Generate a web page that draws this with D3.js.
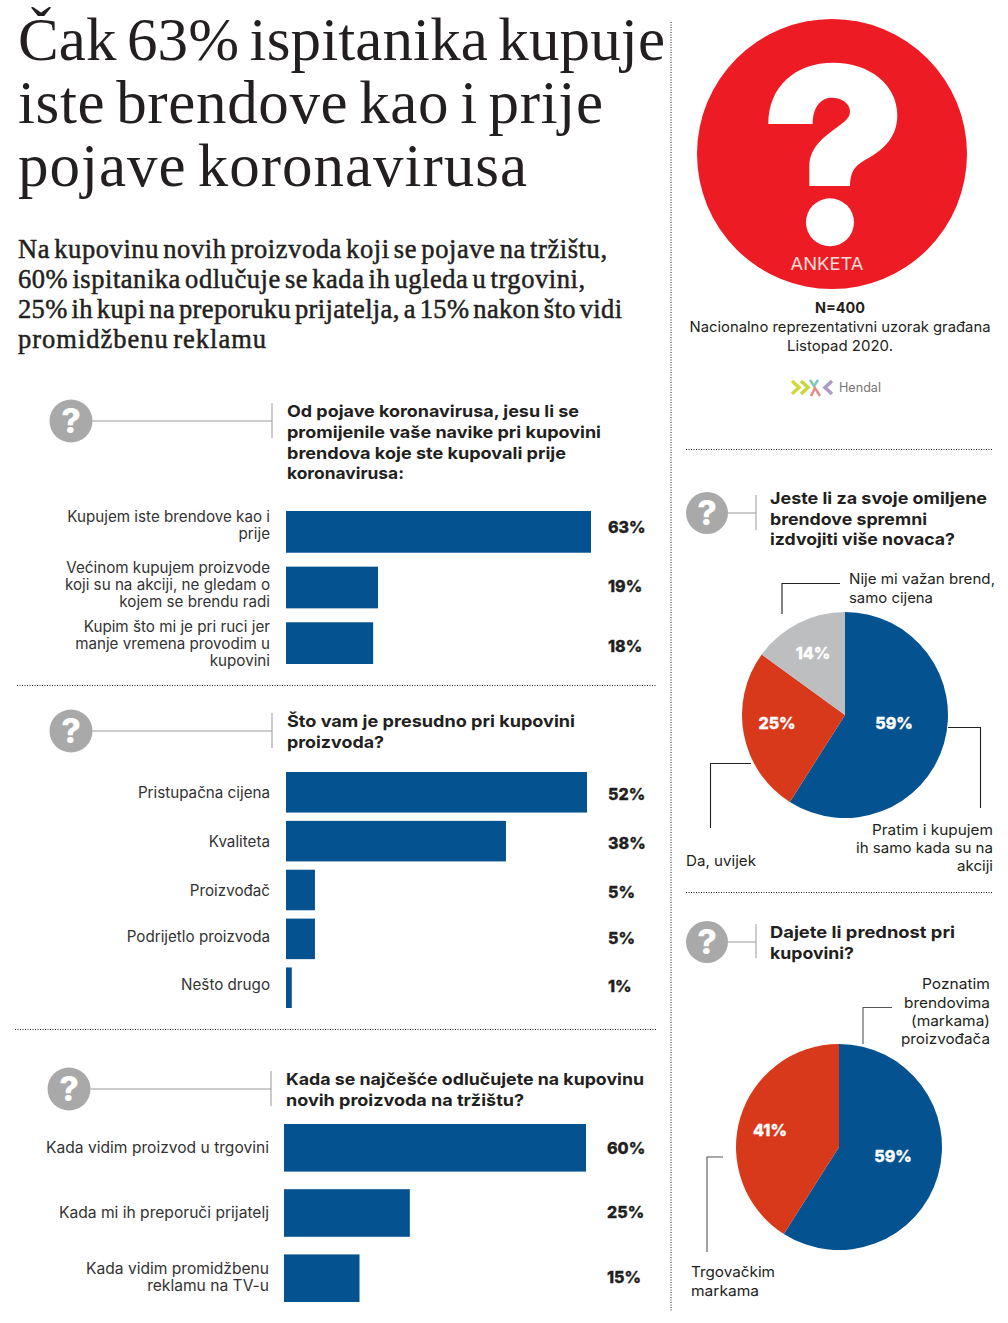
<!DOCTYPE html>
<html><head><meta charset="utf-8">
<script src="https://cdn.jsdelivr.net/npm/d3@7/dist/d3.min.js"></script>
<style>html,body{margin:0;padding:0;background:#fff}svg{display:block}</style>
</head><body><svg id="c" width="1008" height="1323"></svg>
<script>
// ---- data ----
const q1Categories = [["Kupujem iste brendove kao i","prije"],["Većinom kupujem proizvode","koji su na akciji, ne gledam o","kojem se brendu radi"],["Kupim što mi je pri ruci jer","manje vremena provodim u","kupovini"]];
const q1Values = [63,19,18];
const q2Categories = [["Pristupačna cijena"],["Kvaliteta"],["Proizvođač"],["Podrijetlo proizvoda"],["Nešto drugo"]];
const q2Values = [52,38,5,5,1];
const q3Categories = [["Kada vidim proizvod u trgovini"],["Kada mi ih preporuči prijatelj"],["Kada vidim promidžbenu","reklamu na TV-u"]];
const q3Values = [60,25,15];
const pie1Shares = [59,26,15];
const pie1Labels = ["59%","25%","14%"];
const pie2Shares = [59,41];
const pie2Labels = ["59%","41%"];

const BLUE="#04528f", RED="#d9391b", GREY="#bcbec0", INK="#231f20", ICON="#a9a9a9";
const SANS="Inter, 'Noto Sans', sans-serif", SERIF="'Liberation Serif', serif";
const svg=d3.select("#c");

function txt(x,y,s,o={}){
  const t=svg.append("text").attr("x",x).attr("y",y).text(s)
    .attr("font-family",o.font||SANS).attr("font-size",o.size||14.5)
    .attr("font-weight",o.weight||400).attr("fill",o.fill||INK)
    .attr("text-anchor",o.anchor||"start");
  if(o.w) t.attr("textLength",o.w).attr("lengthAdjust",o.adjust||"spacingAndGlyphs");
  if(o.wordSpacing) t.attr("word-spacing",o.wordSpacing);
  if(o.stroke) t.attr("stroke",o.fill||INK).attr("stroke-width",o.stroke);
  return t;
}
function num(x,y,s,o={}){
  return txt(x,y,s,{size:16,weight:800,stroke:.3,...o});
}
function dotted(x1,y1,x2,y2){
  svg.append("line").attr("x1",x1).attr("y1",y1).attr("x2",x2).attr("y2",y2)
    .attr("stroke","#222").attr("stroke-width",1).attr("stroke-dasharray","1 1.5");
}
function leader(pts,col,width){
  svg.append("path").attr("d",d3.line()(pts)).attr("fill","none").attr("stroke",col||"#222").attr("stroke-width",width||1.1);
}
function icon(cx,cy,r,xEnd,y1,y2){
  svg.append("line").attr("x1",cx+r).attr("x2",xEnd).attr("y1",cy).attr("y2",cy).attr("stroke","#999").attr("stroke-width",1);
  svg.append("line").attr("x1",xEnd).attr("x2",xEnd).attr("y1",y1).attr("y2",y2).attr("stroke","#999").attr("stroke-width",1);
  svg.append("circle").attr("cx",cx).attr("cy",cy).attr("r",r).attr("fill",ICON);
  txt(cx,cy+12,"?",{size:34,weight:800,fill:"#fff",anchor:"middle"});
}
function bars(o){
  const x=d3.scaleLinear().domain([0,o.domainMax]).range([o.x0,o.x1]);
  const y=d3.scaleBand().domain(o.values.map((_,i)=>i)).range(o.yRange).paddingInner(o.pad);
  svg.append("g").selectAll("rect").data(o.values).join("rect")
    .attr("x",o.x0).attr("y",(_,i)=>y(i)).attr("width",d=>x(d)-o.x0).attr("height",y.bandwidth()).attr("fill",BLUE);
  o.values.forEach((v,i)=>{
    num(o.valueX,o.valueY[i],v+"%");
    o.categories[i].forEach((l,j)=>txt(o.labelX,o.labelY[i]+j*17.2,l,{anchor:"end",size:o.labelSize||15.2,fill:"#333"}));
  });
}
function pie(o){
  const g=svg.append("g").attr("transform",`translate(${o.cx},${o.cy})`);
  const arcs=d3.pie().sort(null)(o.shares);
  const arc=d3.arc().innerRadius(0).outerRadius(o.r);
  g.selectAll("path").data(arcs).join("path").attr("d",arc).attr("fill",(_,i)=>o.colors[i]);
  o.labels.forEach((l,i)=>num(o.lx[i],o.ly[i],l,{fill:"#fff",anchor:"middle"}));
}

// ---- headline ----
const headOpt={font:SERIF,size:61,adjust:"spacing",wordSpacing:-5};
txt(18,60,"Čak 63% ispitanika kupuje",{...headOpt,w:647});
txt(18,123,"iste brendove kao i prije",{...headOpt,w:585});
txt(18,186,"pojave koronavirusa",{...headOpt,w:509});
const sub=[["Na kupovinu novih proizvoda koji se pojave na tržištu,",589],["60% ispitanika odlučuje se kada ih ugleda u trgovini,",567],["25% ih kupi na preporuku prijatelja, a 15% nakon što vidi",604],["promidžbenu reklamu",248]];
sub.forEach((s,i)=>txt(18,258+i*30,s[0],{font:SERIF,size:26.5,w:s[1],adjust:"spacing",wordSpacing:-3,stroke:.5}));

// ---- separators ----
dotted(671,22,671,1312);
dotted(17,685.5,657,685.5); dotted(15,1029.5,657,1029.5);
dotted(686,449.5,993,449.5); dotted(686,892.5,993,892.5);

// ---- question 1 ----
icon(71,421,21.5,272,403,438);
[["Od pojave koronavirusa, jesu li se",292],["promijenile vaše navike pri kupovini",314],["brendova koje ste kupovali prije",279],["koronavirusa:",117]]
 .forEach((s,i)=>txt(287,417+i*20.8,s[0],{weight:700,size:16.5,w:s[1]}));
bars({values:q1Values,categories:q1Categories,x0:286,x1:591,domainMax:63,yRange:[511,664],pad:.25,
  valueX:608,valueY:[533,592,652],labelX:270,labelY:[522,573,632]});

// ---- question 2 ----
icon(71,731,21.5,272,713,748);
[["Što vam je presudno pri kupovini",288],["proizvoda?",97]].forEach((s,i)=>txt(287,727+i*21,s[0],{weight:700,size:16.5,w:s[1]}));
bars({values:q2Values,categories:q2Categories,x0:286,x1:587,domainMax:52,yRange:[772,1008],pad:.17,
  valueX:608,valueY:[800,849,898,944,992],labelX:270,labelY:[798,847,896,942,990]});

// ---- question 3 ----
icon(69,1089,21.5,271,1071,1106);
[["Kada se najčešće odlučujete na kupovinu",358],["novih proizvoda na tržištu?",238]].forEach((s,i)=>txt(286,1085+i*20.5,s[0],{weight:700,size:16.5,w:s[1]}));
bars({values:q3Values,categories:q3Categories,x0:284,x1:586,domainMax:60,yRange:[1124,1302],pad:.27,
  valueX:607,valueY:[1154,1218,1283],labelX:269,labelY:[1153,1218,1274],labelSize:15.6});

// ---- survey badge ----
svg.append("circle").attr("cx",832).attr("cy",154).attr("r",135).attr("fill","#ed1c24");
const mark=svg.append("g").attr("transform","translate(670,0) scale(0.3333)");
mark.append("path").attr("fill","#fff").attr("d","M295,372C295,260 375,188 490,188C600,188 682,255 682,345C682,420 630,455 585,480C555,497 540,515 540,558L418,558L418,500C418,450 450,420 490,390C520,368 540,355 540,335C540,310 515,293 485,293C450,293 428,325 428,372Z");
mark.append("circle").attr("cx",480).attr("cy",667).attr("r",72).attr("fill","#fff");
txt(827,270,"ANKETA",{size:17,fill:"#fbdcd8",anchor:"middle",w:73});
txt(840,313,"N=400",{size:14.5,weight:700,anchor:"middle",w:50});
txt(840,332,"Nacionalno reprezentativni uzorak građana",{size:14.5,anchor:"middle",w:301});
txt(840,351,"Listopad 2020.",{size:14.5,anchor:"middle",w:106});

// Hendal logo
leader([[792,381],[799,387.5],[792,394]],"#d4d93a",3.5);
leader([[801,381],[808,387.5],[801,394]],"#c6d63f",3.5);
leader([[810,380],[814,386],[818,380]],"#7fc7b8",2.5);
leader([[811,396],[815,388],[820,396]],"#e58a8a",2.5);
leader([[832,381],[825,387.5],[832,394]],"#a99cc8",3.5);
txt(839,392,"Hendal",{size:12.5,fill:"#777",w:42});

// ---- pie 1 ----
icon(707,513,21,756,495,530);
[["Jeste li za svoje omiljene",217],["brendove spremni",157],["izdvojiti više novaca?",185]].forEach((s,i)=>txt(770,504+i*20.5,s[0],{weight:700,size:16.5,w:s[1]}));
pie({cx:845,cy:715,r:103,shares:pie1Shares,colors:[BLUE,RED,GREY],labels:pie1Labels,lx:[894,777,813],ly:[729,729,659]});
leader([[782,614],[782,583.5],[840,583.5]]);
leader([[948,727.5],[980.5,727.5],[980.5,808]]);
leader([[751,763.5],[710.5,763.5],[710.5,828]]);
txt(849,584,"Nije mi važan brend,",{w:146}); txt(849,603,"samo cijena",{w:84});
txt(993,835,"Pratim i kupujem",{anchor:"end",w:121}); txt(993,853,"ih samo kada su na",{anchor:"end",w:137}); txt(993,871,"akciji",{anchor:"end",w:36});
txt(686,866,"Da, uvijek",{w:70});

// ---- pie 2 ----
icon(707,942,21,756,924,958);
[["Dajete li prednost pri",185],["kupovini?",84]].forEach((s,i)=>txt(770,938+i*20.5,s[0],{weight:700,size:16.5,w:s[1]}));
pie({cx:839,cy:1147,r:103,shares:pie2Shares,colors:[BLUE,RED],labels:pie2Labels,lx:[893,770],ly:[1162,1136]});
leader([[863,1044],[863,1007.5],[892,1007.5]],"#555");
leader([[723,1157],[707,1157],[707,1252]],"#555");
[["Poznatim",68,989],["brendovima",86,1008],["(markama)",79,1026],["proizvođača",89,1044]].forEach(s=>txt(990,s[2],s[0],{anchor:"end",w:s[1]}));
txt(691,1277,"Trgovačkim",{w:84}); txt(691,1296,"markama",{w:68});
</script></body></html>
